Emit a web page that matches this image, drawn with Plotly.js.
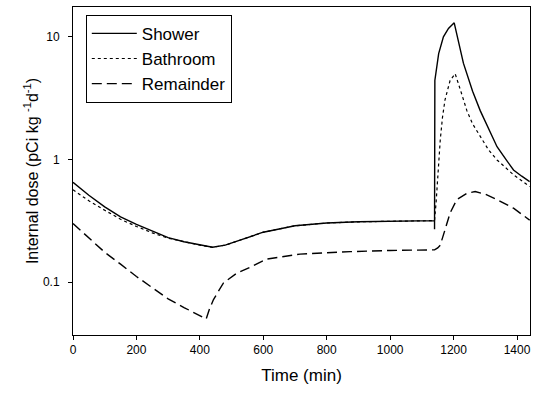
<!DOCTYPE html>
<html><head><meta charset="utf-8">
<script src="https://cdn.plot.ly/plotly-3.0.1.min.js"></script>
<style>html,body{margin:0;padding:0;background:#fff}#chart{width:540px;height:393px}</style>
</head><body><div id="chart"></div>
<script>
const showerX = [0,50,100,150,200,250,300,350,400,440,480,550,600,700,800,900,1000,1100,1140,1140,1141,1153,1168,1184,1202,1231,1260,1284,1310,1337,1365,1389,1415,1440];
const showerY = [0.65,0.51,0.41,0.34,0.295,0.26,0.23,0.213,0.2,0.192,0.2,0.23,0.255,0.288,0.303,0.31,0.314,0.316,0.317,0.27,4.4,7.3,10,11.7,13.0,6.1,3.6,2.5,1.8,1.27,1.0,0.82,0.73,0.66];
const bathX = [0,50,100,150,200,250,300,350,400,440,480,550,600,700,800,900,1000,1100,1140,1145,1150,1158,1165,1173,1189,1205,1220,1242,1260,1284,1310,1337,1365,1389,1415,1440];
const bathY = [0.565,0.46,0.385,0.325,0.284,0.252,0.228,0.212,0.2,0.192,0.2,0.23,0.255,0.288,0.303,0.31,0.314,0.316,0.317,0.45,0.75,1.44,2.2,3.06,4.4,5.0,3.8,2.5,1.95,1.53,1.2,0.99,0.85,0.75,0.67,0.60];
const remX = [0,50,100,150,200,250,300,350,420,430,443,474,516,558,611,716,874,1000,1140,1150,1158,1173,1189,1210,1242,1268,1300,1337,1389,1440];
const remY = [0.30,0.23,0.175,0.14,0.111,0.09,0.073,0.062,0.05,0.06,0.072,0.098,0.118,0.132,0.154,0.169,0.177,0.181,0.183,0.19,0.20,0.267,0.365,0.47,0.53,0.547,0.52,0.47,0.40,0.32];
const seriesNames = ["Shower","Bathroom","Remainder"];
const xTicks = [0,200,400,600,800,1000,1200,1400];
const yTicks = [0.1,1,10];
const yTickText = ["0.1","1","10"];

const data = [
  {x: showerX, y: showerY, name: seriesNames[0], mode: "lines", line: {color: "#000", width: 1.4}},
  {x: bathX, y: bathY, name: seriesNames[1], mode: "lines", line: {color: "#000", width: 1.2, dash: "dot"}},
  {x: remX, y: remY, name: seriesNames[2], mode: "lines", line: {color: "#000", width: 1.4, dash: "10px,5px"}}
];
const layout = {
  width: 540, height: 393,
  margin: {l: 73, r: 10, t: 7, b: 58},
  paper_bgcolor: "#fff", plot_bgcolor: "#fff",
  font: {family: "Liberation Sans, Arial, sans-serif", color: "#000", size: 12},
  showlegend: true,
  legend: {x: 0.028, y: 0.976, xanchor: "left", yanchor: "top", bordercolor: "#000", borderwidth: 1,
           bgcolor: "#fff", font: {size: 17}, tracegroupgap: 0, itemwidth: 45},
  xaxis: {range: [0, 1441], tickvals: xTicks, ticks: "outside", ticklen: 4, tickcolor: "#000",
          showline: true, mirror: true, linecolor: "#000", linewidth: 1, showgrid: false, zeroline: false,
          tickfont: {size: 12},
          title: {text: "Time (min)", font: {size: 17}, standoff: 12}},
  yaxis: {type: "log", range: [Math.log10(0.037), Math.log10(17.5)], tickvals: yTicks, ticktext: yTickText,
          ticks: "outside", ticklen: 4, tickcolor: "#000", ticklabelstandoff: 6,
          showline: true, mirror: true, linecolor: "#000", linewidth: 1, showgrid: false, zeroline: false,
          tickfont: {size: 12},
          title: {text: "Internal dose (pCi kg <sup>-1</sup>d<sup>-1</sup>)", font: {size: 16}, standoff: 0}}
};
Plotly.newPlot("chart", data, layout, {displayModeBar: false, staticPlot: true});
</script></body></html>
